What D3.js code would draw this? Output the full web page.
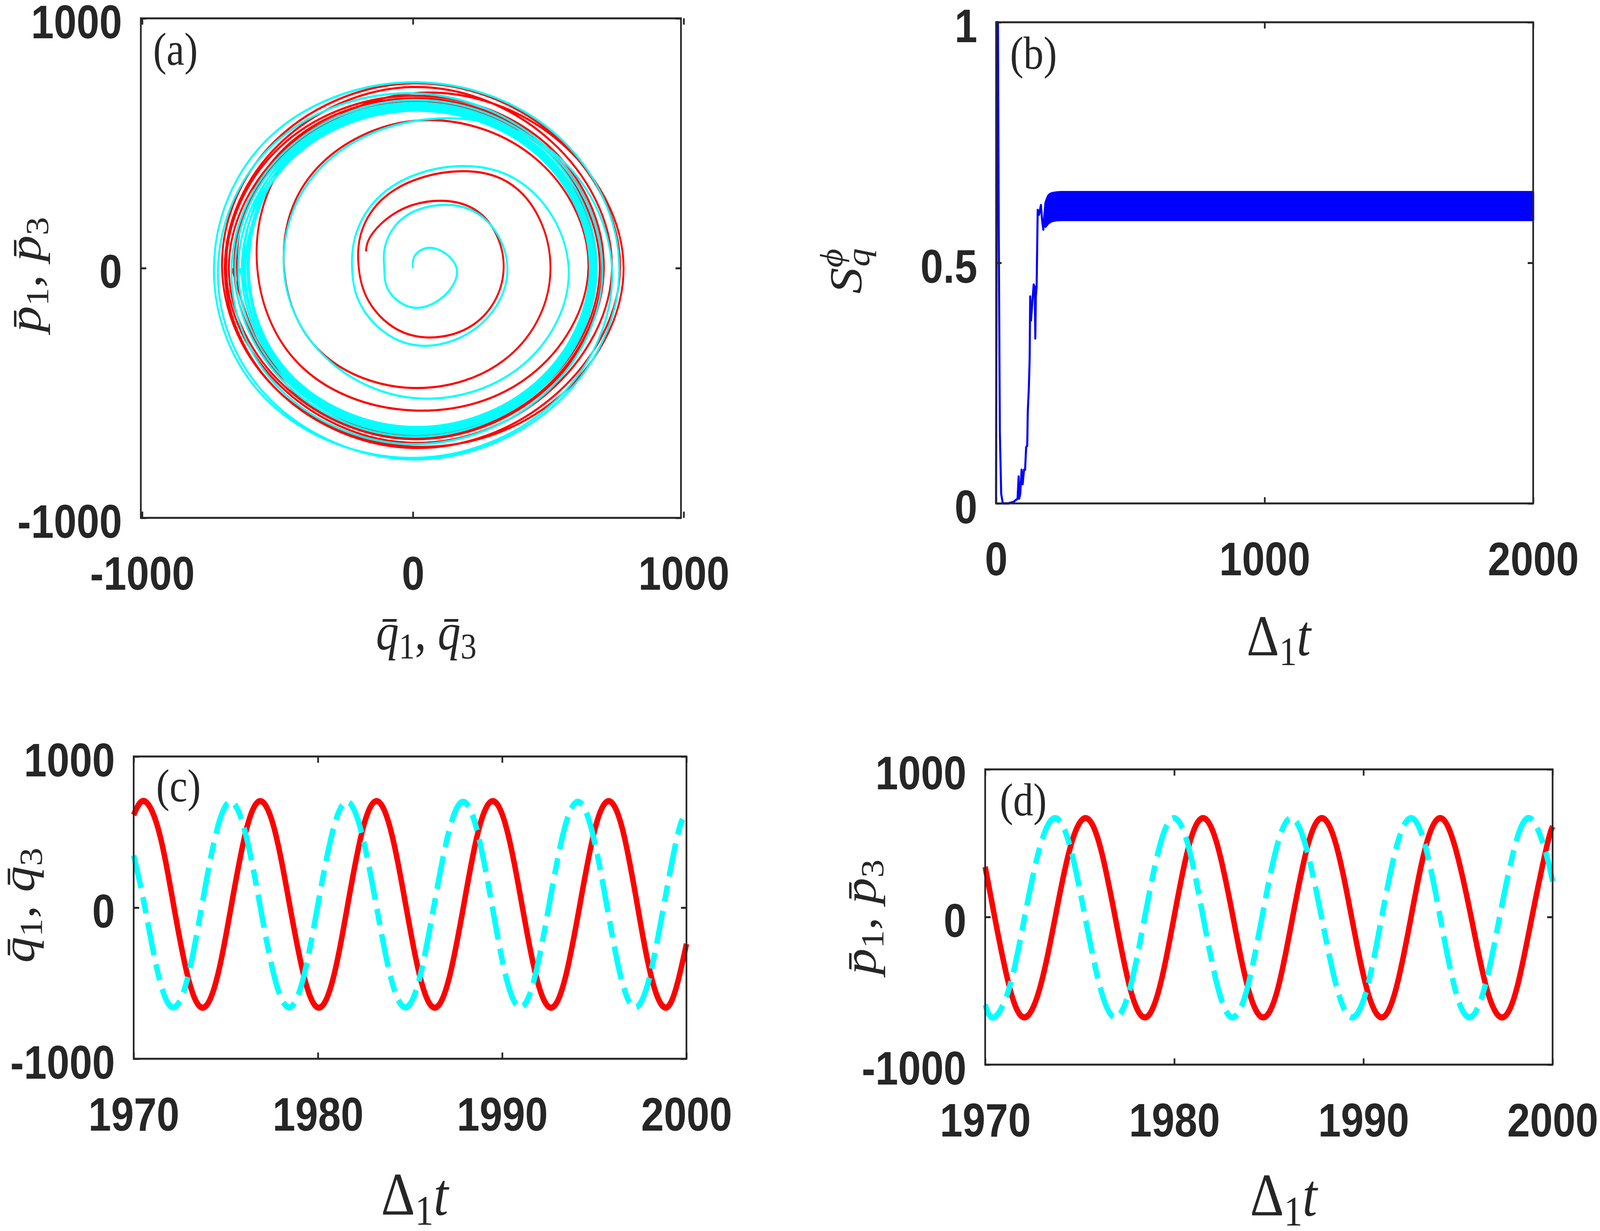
<!DOCTYPE html>
<html>
<head>
<meta charset="utf-8">
<script src="https://cdn.jsdelivr.net/npm/d3@7"></script>
<style>
  html, body { margin: 0; padding: 0; background: #fff; width: 100%; height: 100%; overflow: hidden; }
  svg { display: block; width: 100vw; height: 100vh; }
  .tick-label { font-family: "Liberation Sans", Arial, sans-serif; font-weight: bold; font-size: 120px; }
  .math { font-family: "Liberation Serif", "Times New Roman", serif; fill: #262626; }
</style>
</head>
<body>
<svg id="fig" viewBox="0 0 4692 3152" preserveAspectRatio="none"></svg>
<script>
// (a) phase portrait as [direction in degrees, radius]
// direction keeps decreasing as the orbit turns clockwise
const cyanOrbit = [
  [90, 0], [80, 54], [45, 112], [0, 161], [-45, 160], [-90, 158], [-135, 127], [-180, 106],
  [-225, 141], [-270, 225], [-315, 320], [-360, 349], [-405, 335], [-450, 307], [-495, 250], [-540, 225],
  [-585, 269], [-630, 370], [-675, 516], [-720, 575], [-765, 560], [-810, 520], [-855, 480], [-900, 477],
  [-945, 520], [-990, 588], [-1035, 690], [-1080, 735], [-1125, 748], [-1170, 760], [-1215, 755], [-1260, 735],
  [-1305, 745], [-1350, 744], [-1395, 752], [-1440, 762], [-1485, 758], [-1530, 766], [-1575, 745], [-1620, 720],
  [-1665, 715], [-1710, 700], [-1755, 690], [-1800, 700], [-1845, 700], [-1890, 705], [-1935, 690], [-1980, 670],
  [-2025, 665], [-2070, 673], [-2115, 680], [-2160, 679], [-2205, 675], [-2250, 675], [-2295, 660], [-2340, 657],
  [-2385, 655], [-2430, 662], [-2475, 670], [-2520, 672], [-2565, 668], [-2610, 665], [-2655, 650], [-2700, 645],
  [-2745, 645], [-2790, 652], [-2835, 662], [-2880, 666], [-2925, 660], [-2970, 655], [-3015, 640], [-3060, 632],
  [-3105, 635], [-3150, 640], [-3195, 652], [-3240, 660], [-3285, 652], [-3330, 645], [-3375, 630], [-3420, 620],
  [-3465, 625], [-3510, 630], [-3555, 645], [-3600, 653], [-3645, 645], [-3690, 636], [-3735, 622], [-3780, 606],
  [-3825, 630], [-3870, 635], [-3915, 648], [-3960, 656], [-4005, 648], [-4050, 640], [-4095, 626], [-4140, 612],
  [-4185, 640], [-4230, 645], [-4275, 655], [-4320, 662], [-4365, 655], [-4410, 650], [-4455, 635], [-4500, 625],
  [-4545, 650], [-4590, 657], [-4635, 665], [-4680, 670], [-4725, 662], [-4770, 660], [-4815, 645], [-4860, 640]
];
const redOrbit = [
  [159, 186], [135, 205], [90, 253], [45, 328], [0, 335], [-45, 318], [-90, 270], [-135, 215], [-180, 200],
  [-225, 252], [-270, 350], [-315, 490], [-360, 508], [-405, 500], [-450, 480], [-495, 478], [-540, 476],
  [-585, 530], [-630, 589], [-675, 630], [-720, 648], [-765, 610], [-810, 570], [-855, 570], [-900, 575],
  [-945, 640], [-990, 700], [-1035, 740], [-1080, 778], [-1125, 745], [-1170, 715], [-1215, 700], [-1260, 705],
  [-1305, 720], [-1350, 740], [-1395, 745], [-1440, 765], [-1485, 730], [-1530, 720], [-1575, 700], [-1620, 695],
  [-1665, 700], [-1710, 725], [-1755, 720], [-1800, 735], [-1845, 705], [-1890, 700], [-1935, 680], [-1980, 690],
  [-2025, 690], [-2070, 690], [-2115, 700], [-2160, 705], [-2205, 690], [-2250, 685], [-2295, 670], [-2340, 680],
  [-2385, 670], [-2430, 670], [-2475, 680], [-2520, 690], [-2565, 675], [-2610, 670], [-2655, 650], [-2700, 660],
  [-2745, 660], [-2790, 660], [-2835, 668], [-2880, 678], [-2925, 665], [-2970, 662], [-3015, 645], [-3060, 650],
  [-3105, 675], [-3150, 680], [-3195, 690], [-3240, 698], [-3285, 685], [-3330, 680], [-3375, 660], [-3420, 668]
];
const aTicks = [-1000, 0, 1000];

// (b) S_q^phi against Delta_1 t: the early transient as a line, the steady part as a band
const sRise = [
  [0, 0], [2, 0.57], [4, 1.0], [7, 1.0], [10, 0.56], [14, 0.15], [19, 0.02], [25, 0], [45, 0], [65, 0.003],
  [80, 0.01], [84, 0.056], [86, 0.01], [90, 0.02], [95, 0.07], [99, 0.04], [104, 0.07], [108, 0.07],
  [112, 0.117], [116, 0.12], [118, 0.19], [122, 0.24], [125, 0.30], [127, 0.43], [130, 0.38], [134, 0.41],
  [140, 0.455], [144, 0.45], [146, 0.343], [148, 0.43], [151, 0.45], [153, 0.53], [155, 0.61], [160, 0.60],
  [167, 0.62], [172, 0.585], [176, 0.569], [180, 0.60], [184, 0.625]
];
const sBandT = [184, 195, 210, 240, 1000, 2000];
const sBandLo = [0.575, 0.582, 0.587, 0.589, 0.589, 0.589];
const sBandHi = [0.625, 0.640, 0.645, 0.647, 0.647, 0.647];
const bXTicks = [0, 1000, 2000];
const bYTicks = [0, 0.5, 1];

// (c) q1 (red, solid) and q3 (cyan, dashed), [Delta_1 t, value]
const q1 = [
  [1970.00, 613], [1970.58, 705], [1971.37, 504], [1972.16, 21], [1972.95, -462], [1973.74, -662],
  [1974.53, -462], [1975.31, 21], [1976.09, 504], [1976.87, 705], [1977.67, 504], [1978.46, 21], [1979.26, -462], [1980.05, -662],
  [1980.84, -462], [1981.62, 21], [1982.40, 504], [1983.18, 705], [1983.97, 504], [1984.76, 21], [1985.55, -462], [1986.34, -662],
  [1987.13, -462], [1987.92, 21], [1988.70, 504], [1989.49, 705], [1990.28, 504], [1991.07, 21], [1991.86, -462], [1992.65, -662],
  [1993.43, -462], [1994.22, 21], [1995.00, 504], [1995.78, 705], [1996.56, 504], [1997.33, 21], [1998.10, -462], [1998.87, -662],
  [1999.50, -505], [2000.00, -240]
];
const q3 = [
  [1970.00, 345], [1970.58, 20], [1971.37, -460], [1972.16, -660], [1972.94, -460], [1973.71, 20], [1974.49, 500], [1975.26, 700],
  [1976.05, 500], [1976.85, 20], [1977.64, -460], [1978.44, -660], [1979.22, -460], [1980.00, 20], [1980.79, 500], [1981.57, 700],
  [1982.36, 500], [1983.16, 20], [1983.95, -460], [1984.75, -660], [1985.53, -460], [1986.31, 20], [1987.10, 500], [1987.88, 700],
  [1988.66, 500], [1989.44, 20], [1990.21, -460], [1990.99, -660], [1991.77, -460], [1992.55, 20], [1993.33, 500], [1994.11, 700],
  [1994.89, 500], [1995.67, 20], [1996.44, -460], [1997.22, -660], [1998.00, -460], [1998.78, 20], [1999.56, 500], [2000.00, 613]
];

// (d) p1 (red, solid) and p3 (cyan, dashed)
const p1 = [
  [1970.00, 340], [1970.51, -5], [1971.30, -482], [1972.08, -680], [1972.89, -482], [1973.70, -5], [1974.50, 472], [1975.31, 670],
  [1976.09, 472], [1976.88, -5], [1977.66, -482], [1978.44, -680], [1979.21, -482], [1979.98, -5], [1980.75, 472], [1981.52, 670],
  [1982.31, 472], [1983.11, -5], [1983.90, -482], [1984.70, -680], [1985.48, -482], [1986.25, -5], [1987.03, 472], [1987.80, 670],
  [1988.59, 472], [1989.38, -5], [1990.17, -482], [1990.96, -680], [1991.73, -482], [1992.51, -5], [1993.28, 472], [1994.06, 670],
  [1994.85, 472], [1995.70, -5], [1996.51, -482], [1997.33, -680], [1998.11, -482], [1998.90, -5], [1999.68, 472], [2000.00, 614]
];
const p3 = [
  [1970.00, -594], [1970.46, -680], [1971.27, -482], [1972.08, -5], [1972.89, 472], [1973.70, 670], [1974.50, 472], [1975.29, -5],
  [1976.09, -482], [1976.88, -680], [1977.66, -482], [1978.43, -5], [1979.21, 472], [1979.98, 670], [1980.76, 472], [1981.53, -5],
  [1982.31, -482], [1983.08, -680], [1983.86, -482], [1984.63, -5], [1985.41, 472], [1986.18, 670], [1986.97, 472], [1987.79, -5],
  [1988.60, -482], [1989.40, -680], [1990.19, -482], [1990.96, -5], [1991.74, 472], [1992.52, 670], [1993.29, 472], [1994.06, -5],
  [1994.83, -482], [1995.60, -680], [1996.40, -482], [1997.19, -5], [1997.99, 472], [1998.78, 670], [1999.56, 472], [2000.00, 241]
];
const cdXTicks = [1970, 1980, 1990, 2000];
const cdYTicks = [-1000, 0, 1000];

const RED = '#ff0000';
const CYAN = '#00ffff';
const BLUE = '#0000ff';
const AXIS_COLOR = '#262626';
const TICK = 16;
const DASH = '86,24,42,24';

const svg = d3.select('#fig');
svg.append('rect').attr('width', 4692).attr('height', 3152).attr('fill', '#fff');

function styleAxis(sel) {
  sel.select('.domain').remove();
  sel.selectAll('.tick line').attr('stroke-width', 5);
  sel.selectAll('text').attr('class', 'tick-label');
}

function drawFrame(x, y, xTicks, yTicks) {
  const [x0, x1] = x.range();
  const [y0, y1] = y.range();
  const fmt = d => String(d);
  const blank = () => '';
  const g = svg.append('g').attr('color', AXIS_COLOR);

  g.append('g').attr('transform', `translate(0,${y0})`)
    .call(d3.axisBottom(x).tickValues(xTicks).tickFormat(fmt).tickSize(-TICK).tickSizeOuter(0).tickPadding(99))
    .call(styleAxis);
  g.append('g').attr('transform', `translate(0,${y1})`)
    .call(d3.axisTop(x).tickValues(xTicks).tickFormat(blank).tickSize(-TICK).tickSizeOuter(0))
    .call(styleAxis);
  g.append('g').attr('transform', `translate(${x0},0)`)
    .call(d3.axisLeft(y).tickValues(yTicks).tickFormat(fmt).tickSize(-TICK).tickSizeOuter(0).tickPadding(55))
    .call(styleAxis)
    .selectAll('text').attr('dy', '0.42em');
  g.append('g').attr('transform', `translate(${x1},0)`)
    .call(d3.axisRight(y).tickValues(yTicks).tickFormat(blank).tickSize(-TICK).tickSizeOuter(0))
    .call(styleAxis);

  g.append('rect')
    .attr('x', x0).attr('y', y1)
    .attr('width', x1 - x0).attr('height', y0 - y1)
    .attr('fill', 'none')
    .attr('stroke', AXIS_COLOR)
    .attr('stroke-width', 5);
  return g;
}

// pieces: [text, italic, shift, dx] where shift is 'sub', 'sup' or undefined
function mathLabel(x, y, rotate, pieces, size) {
  const t = svg.append('text')
    .attr('class', 'math')
    .attr('text-anchor', 'middle')
    .attr('font-size', size)
    .attr('transform', `translate(${x},${y})` + (rotate ? ' rotate(-90)' : ''));
  let level = 0;
  pieces.forEach(([txt, italic, shift, dx]) => {
    const target = shift === 'sub' ? 0.17 * size : shift === 'sup' ? -0.42 * size : 0;
    const s = t.append('tspan').text(txt).attr('dy', target - level);
    level = target;
    if (italic) s.attr('font-style', 'italic');
    if (shift) s.attr('font-size', size * 0.7);
    if (dx) s.attr('dx', dx);
  });
}

function panelLetter(x, y, txt) {
  svg.append('text')
    .attr('class', 'math')
    .attr('x', x).attr('y', y)
    .attr('font-size', 118)
    .text(txt);
}

const qbar = 'q\u0304';
const pbar = 'p\u0304';
const deltaT = [['\u0394', false], ['1', false, 'sub'], ['t', true]];

// ---------- (a) ----------
const xA = d3.scaleLinear().domain([-1005, 990]).range([413, 1997]);
const yA = d3.scaleLinear().domain([-1000, 1000]).range([1326, 47]);
const rad = Math.PI / 180;
const orbitLine = d3.line()
  .x(([deg, r]) => xA(r * Math.cos(deg * rad)))
  .y(([deg, r]) => yA(r * Math.sin(deg * rad)))
  .curve(d3.curveNatural);

svg.append('path').datum(redOrbit)
  .attr('d', orbitLine).attr('fill', 'none').attr('stroke', RED).attr('stroke-width', 5.5);
svg.append('path').datum(cyanOrbit)
  .attr('d', orbitLine).attr('fill', 'none').attr('stroke', CYAN).attr('stroke-width', 5.5);
drawFrame(xA, yA, aTicks, aTicks);
panelLetter(449, 166, '(a)');
mathLabel(1250, 1663, false, [[qbar, true], ['1', false, 'sub'], [', ', false], [qbar, true], ['3', false, 'sub']], 134);
mathLabel(118, 703, true, [[pbar, true], ['1', false, 'sub'], [', ', false], [pbar, true], ['3', false, 'sub']], 134);

// ---------- (b) ----------
const xB = d3.scaleLinear().domain([0, 2000]).range([2921, 4496]);
const yB = d3.scaleLinear().domain([0, 1]).range([1289, 57]);
const band = sBandT.map((t, i) => ({ t, lo: sBandLo[i], hi: sBandHi[i] }));

svg.append('path').datum(band)
  .attr('d', d3.area().x(d => xB(d.t)).y0(d => yB(d.lo)).y1(d => yB(d.hi)).curve(d3.curveMonotoneX))
  .attr('fill', BLUE).attr('stroke', BLUE).attr('stroke-width', 6).attr('stroke-linejoin', 'round');
svg.append('path').datum(sRise)
  .attr('d', d3.line().x(d => xB(d[0])).y(d => yB(d[1])))
  .attr('fill', 'none').attr('stroke', BLUE).attr('stroke-width', 6).attr('stroke-linejoin', 'round');
drawFrame(xB, yB, bXTicks, bYTicks);
panelLetter(2962, 176, '(b)');
mathLabel(3750, 1678, false, deltaT, 148);
mathLabel(2526, 694, true, [['S', true], ['\u03d5', true, 'sup'], ['q', true, 'sub', -46]], 134);

// ---------- (c) ----------
const xC = d3.scaleLinear().domain([1970, 2000]).range([392, 2013]);
const yC = d3.scaleLinear().domain([-1000, 1000]).range([2711, 1937]);
const lineC = d3.line().x(d => xC(d[0])).y(d => yC(d[1])).curve(d3.curveNatural);
svg.append('path').datum(q1)
  .attr('d', lineC).attr('fill', 'none').attr('stroke', RED).attr('stroke-width', 16);
svg.append('path').datum(q3)
  .attr('d', lineC).attr('fill', 'none').attr('stroke', CYAN).attr('stroke-width', 16)
  .attr('stroke-dasharray', DASH);
drawFrame(xC, yC, cdXTicks, cdYTicks);
panelLetter(458, 2052, '(c)');
mathLabel(1216, 3110, false, deltaT, 155);
mathLabel(100, 2318, true, [[qbar, true], ['1', false, 'sub'], [', ', false], [qbar, true], ['3', false, 'sub']], 134);

// ---------- (d) ----------
const xD = d3.scaleLinear().domain([1970, 2000]).range([2889, 4553]);
const yD = d3.scaleLinear().domain([-1000, 1000]).range([2726, 1970]);
const lineD = d3.line().x(d => xD(d[0])).y(d => yD(d[1])).curve(d3.curveNatural);
svg.append('path').datum(p1)
  .attr('d', lineD).attr('fill', 'none').attr('stroke', RED).attr('stroke-width', 16);
svg.append('path').datum(p3)
  .attr('d', lineD).attr('fill', 'none').attr('stroke', CYAN).attr('stroke-width', 16)
  .attr('stroke-dasharray', DASH);
drawFrame(xD, yD, cdXTicks, cdYTicks);
panelLetter(2932, 2088, '(d)');
mathLabel(3764, 3112, false, deltaT, 155);
mathLabel(2567, 2348, true, [[pbar, true], ['1', false, 'sub'], [', ', false], [pbar, true], ['3', false, 'sub']], 134);
</script>
</body>
</html>
